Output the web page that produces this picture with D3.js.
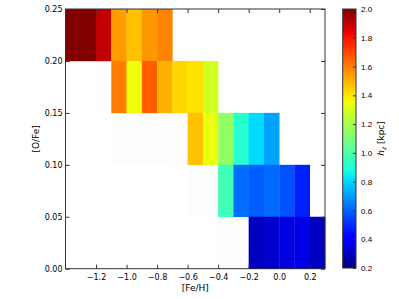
<!DOCTYPE html>
<html><head><meta charset="utf-8">
<script src="https://cdn.jsdelivr.net/npm/d3@7"></script>
<style>body{margin:0;background:#fff}svg{display:block;font-family:"DejaVu Sans",sans-serif}</style>
</head><body><svg id="c" width="399" height="299"></svg>
<script>
// bin left edges ([Fe/H]) and bottom edges ([O/Fe]) and scale heights h_z (kpc)
const feh = [-1.4,-1.3,-1.2,-1.1,-1.0,-0.9,-0.8,
             -1.1,-1.0,-0.9,-0.8,-0.7,-0.6,-0.5,
             -0.6,-0.5,-0.4,-0.3,-0.2,-0.1,
             -0.4,-0.3,-0.2,-0.1,0.0,0.1,
             -0.2,-0.1,0.0,0.1,0.2];
const ofe = [0.20,0.20,0.20,0.20,0.20,0.20,0.20,
             0.15,0.15,0.15,0.15,0.15,0.15,0.15,
             0.10,0.10,0.10,0.10,0.10,0.10,
             0.05,0.05,0.05,0.05,0.05,0.05,
             0.00,0.00,0.00,0.00,0.00];
const hz  = [2.0,2.0,1.90,1.54,1.47,1.55,1.59,
             1.60,1.35,1.66,1.50,1.43,1.41,1.29,
             1.47,1.34,1.15,0.91,0.81,0.71,
             0.97,0.62,0.59,0.61,0.57,0.48,
             0.30,0.32,0.35,0.36,0.30];
// sparsely populated bins (drawn nearly white)
const lowFeh = [-1.2,-1.1,-1.0,-0.9,-0.8,-0.7,-0.6,-0.5,-0.4,-0.3];
const lowOfe = [0.15,0.10,0.10,0.10,0.10,0.10,0.05,0.05,0.00,0.00];
const xTicks = [-1.2,-1.0,-0.8,-0.6,-0.4,-0.2,0.0,0.2];
const yTicks = [0.00,0.05,0.10,0.15,0.20,0.25];
const cTicks = [0.2,0.4,0.6,0.8,1.0,1.2,1.4,1.6,1.8,2.0];
const binW = 0.1, binH = 0.05, vmin = 0.2, vmax = 2.0;

function seg(pts, t){
  for(let i=1;i<pts.length;i++){
    if(t<=pts[i][0]){const a=pts[i-1],b=pts[i];return a[1]+(b[1]-a[1])*(t-a[0])/(b[0]-a[0]);}
  }
  return pts[pts.length-1][1];
}
const R=[[0,0],[0.35,0],[0.66,1],[0.89,1],[1,0.5]];
const G=[[0,0],[0.125,0],[0.375,1],[0.64,1],[0.91,0],[1,0]];
const B=[[0,0.5],[0.11,1],[0.34,1],[0.65,0],[1,0]];
function jet(t){t=Math.max(0,Math.min(1,t));return d3.rgb(255*seg(R,t),255*seg(G,t),255*seg(B,t)).toString();}

const svg=d3.select("#c");
const L=65.5,Rr=325,T=9,Bt=268.7;
const x=d3.scaleLinear().domain([-1.4,0.3]).range([L,Rr]);
const y=d3.scaleLinear().domain([0,0.25]).range([Bt,T]);
const cnorm=d3.scaleLinear().domain([vmin,vmax]).range([0,1]);

const g=svg.append("g");
g.selectAll("rect.low").data(lowFeh.map((f,i)=>({f,o:lowOfe[i]}))).join("rect")
 .attr("x",d=>x(d.f)).attr("y",d=>y(d.o+binH)).attr("width",d=>x(d.f+binW)-x(d.f)).attr("height",d=>y(d.o)-y(d.o+binH))
 .attr("fill","#fdfdfd");
g.selectAll("rect.cell").data(hz.map((v,i)=>({f:feh[i],o:ofe[i],v}))).join("rect")
 .attr("x",d=>x(d.f)).attr("y",d=>y(d.o+binH)).attr("width",d=>x(d.f+binW)-x(d.f)+0.3).attr("height",d=>y(d.o)-y(d.o+binH)+0.3)
 .attr("fill",d=>jet(cnorm(d.v)));

const ax="#333";
const fs=8;
// axes
const xb=svg.append("g").attr("transform",`translate(0,${Bt})`).call(d3.axisBottom(x).tickValues(xTicks).tickFormat(d3.format(".1f")).tickSizeInner(-4).tickSizeOuter(0).tickPadding(6));
const xt=svg.append("g").attr("transform",`translate(0,${T})`).call(d3.axisTop(x).tickValues(xTicks).tickFormat("").tickSizeInner(-4).tickSizeOuter(0));
const yl=svg.append("g").attr("transform",`translate(${L},0)`).call(d3.axisLeft(y).tickValues(yTicks).tickFormat(d3.format(".2f")).tickSizeInner(-4).tickSizeOuter(0).tickPadding(3));
const yr=svg.append("g").attr("transform",`translate(${Rr},0)`).call(d3.axisRight(y).tickValues(yTicks).tickFormat("").tickSizeInner(-4).tickSizeOuter(0));
[xb,xt,yl,yr].forEach(a=>{a.select(".domain").remove();a.selectAll("line").attr("stroke",ax);a.selectAll("text").attr("font-size",fs).attr("fill","#000").attr("font-family","DejaVu Sans");});
svg.append("rect").attr("x",L).attr("y",T).attr("width",Rr-L).attr("height",Bt-T).attr("fill","none").attr("stroke",ax).attr("stroke-width",1);

svg.append("text").attr("x",(L+Rr)/2).attr("y",291).attr("text-anchor","middle").attr("font-size",9).text("[Fe/H]");
svg.append("text").attr("transform",`translate(39,${(T+Bt)/2}) rotate(-90)`).attr("text-anchor","middle").attr("font-size",9).text("[O/Fe]");

// colorbar
const cx0=342.7,cx1=356,cy0=9,cy1=268;
const cy=d3.scaleLinear().domain([vmin,vmax]).range([cy1,cy0]);
const grad=svg.append("defs").append("linearGradient").attr("id","jet").attr("x1",0).attr("y1",1).attr("x2",0).attr("y2",0);
d3.range(0,1.0001,0.02).forEach(t=>grad.append("stop").attr("offset",t).attr("stop-color",jet(t)));
svg.append("rect").attr("x",cx0).attr("y",cy0).attr("width",cx1-cx0).attr("height",cy1-cy0).attr("fill","url(#jet)").attr("stroke",ax).attr("stroke-width",1);
const cb=svg.append("g").attr("transform",`translate(${cx1},0)`).call(d3.axisRight(cy).tickValues(cTicks).tickFormat(d3.format(".1f")).tickSizeInner(-3).tickSizeOuter(0).tickPadding(5));
cb.select(".domain").remove();cb.selectAll("line").attr("stroke",ax);cb.selectAll("text").attr("font-size",fs).attr("fill","#000");
const lab=svg.append("text").attr("transform",`translate(384,${(cy0+cy1)/2}) rotate(-90)`).attr("text-anchor","middle").attr("font-size",9);
lab.append("tspan").attr("font-style","italic").text("h");
lab.append("tspan").attr("font-style","italic").attr("font-size",6).attr("dy",2).text("z");
lab.append("tspan").attr("dy",-2).text(" [kpc]");
</script></body></html>
